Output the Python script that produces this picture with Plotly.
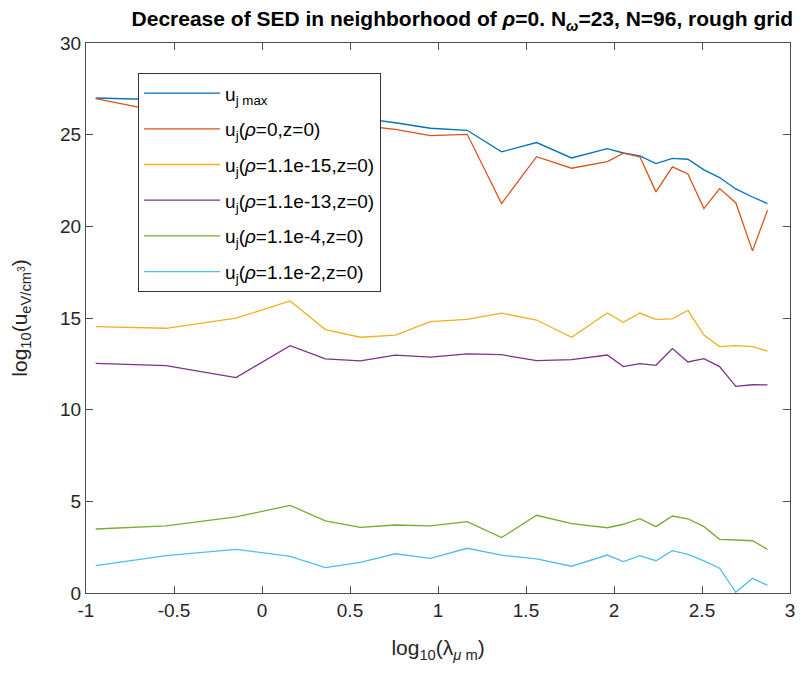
import plotly.graph_objects as go

x = [-0.945, -0.545, -0.148, 0.16, 0.36, 0.559, 0.758, 0.957, 1.166, 1.361, 1.56,
     1.759, 1.962, 2.053, 2.147, 2.238, 2.332, 2.42, 2.511, 2.60, 2.692, 2.787, 2.872]

u_max = [27.0, 26.92, 26.8, 26.4, 26.1, 25.9, 25.65, 25.35, 25.24, 24.06, 24.57, 23.73,
         24.24, 24.0, 23.84, 23.42, 23.71, 23.66, 23.08, 22.66, 22.04, 21.6, 21.24]
u_rho0 = [26.97, 26.2, 26.0, 26.1, 25.8, 25.5, 25.29, 24.95, 25.02, 21.24, 23.80, 23.17,
          23.53, 23.99, 23.79, 21.88, 23.24, 22.86, 20.97, 22.06, 21.29, 18.66, 20.88]
u_15 = [14.53, 14.44, 14.99, 15.93, 14.37, 13.95, 14.07, 14.80, 14.93, 15.26, 14.89, 13.95,
        15.27, 14.77, 15.27, 14.93, 14.95, 15.42, 14.07, 13.44, 13.49, 13.44, 13.19]
u_13 = [12.53, 12.40, 11.75, 13.49, 12.77, 12.66, 12.98, 12.87, 13.04, 13.0, 12.67, 12.73,
        12.98, 12.35, 12.51, 12.42, 13.33, 12.6, 12.78, 12.35, 11.27, 11.36, 11.35]
u_4 = [3.49, 3.66, 4.15, 4.78, 3.93, 3.58, 3.71, 3.66, 3.89, 3.02, 4.24, 3.78,
       3.56, 3.75, 4.05, 3.62, 4.2, 4.05, 3.62, 2.93, 2.89, 2.85, 2.38]
u_2 = [1.49, 2.04, 2.38, 2.0, 1.38, 1.67, 2.14, 1.89, 2.44, 2.06, 1.86, 1.46,
       2.07, 1.71, 2.04, 1.76, 2.31, 2.11, 1.75, 1.35, 0.04, 0.80, 0.42]

names = ["u<sub>j max</sub>",
         "u<sub>j</sub>(<i>ρ</i>=0,z=0)",
         "u<sub>j</sub>(<i>ρ</i>=1.1e-15,z=0)",
         "u<sub>j</sub>(<i>ρ</i>=1.1e-13,z=0)",
         "u<sub>j</sub>(<i>ρ</i>=1.1e-4,z=0)",
         "u<sub>j</sub>(<i>ρ</i>=1.1e-2,z=0)"]
series = [u_max, u_rho0, u_15, u_13, u_4, u_2]
colors = ["#0072BD", "#D95319", "#EDB120", "#7E2F8E", "#77AC30", "#4DBEEE"]

x_ticks = [-1, -0.5, 0, 0.5, 1, 1.5, 2, 2.5, 3]
x_ticklabels = ["-1", "-0.5", "0", "0.5", "1", "1.5", "2", "2.5", "3"]
y_ticks = [0, 5, 10, 15, 20, 25, 30]

FONT = "Liberation Sans, Arial, sans-serif"

fig = go.Figure()
for i, (name, ys, c) in enumerate(zip(names, series, colors)):
    fig.add_trace(go.Scatter(x=x, y=ys, mode="lines", name=name, legendgroup=f"g{i}",
                             line=dict(color=c, width=1.3)))

axis_common = dict(showgrid=False, zeroline=False, showline=True, linecolor="#4d4d4d",
                   linewidth=1.2, mirror="ticks", ticks="inside", ticklen=7,
                   tickcolor="#4d4d4d", automargin=False,
                   tickfont=dict(size=19, color="#262626", family=FONT))

fig.update_layout(
    width=807, height=679,
    margin=dict(l=78, r=25, t=35, b=94, autoexpand=False),
    paper_bgcolor="white", plot_bgcolor="white",
    font=dict(family=FONT, color="#262626"),
    title=dict(text="<b>Decrease of SED in neighborhood of <i>ρ</i>=0. N<sub><i>ω</i></sub>=23, N=96, rough grid</b>",
               x=0.563, xanchor="center", y=0.995, yanchor="top",
               font=dict(size=21, color="black"), automargin=False),
    xaxis=dict(range=[-1, 3], tickvals=x_ticks, ticktext=x_ticklabels,
               title=dict(text="log<sub>10</sub>(λ<sub><i>μ</i> m</sub>)", font=dict(size=21), standoff=20),
               **axis_common),
    yaxis=dict(range=[0, 30], tickvals=y_ticks,
               title=dict(text="log<sub>10</sub>(u<sub>eV/cm<sup>3</sup></sub>)", font=dict(size=21), standoff=37),
               **axis_common),
    legend=dict(x=0.074, y=0.945, xanchor="left", yanchor="top",
                bgcolor="white", bordercolor="#333333", borderwidth=1,
                font=dict(size=19, color="black"), tracegroupgap=8,
                itemwidth=76),
    showlegend=True,
)

fig.write_html("out.html")
